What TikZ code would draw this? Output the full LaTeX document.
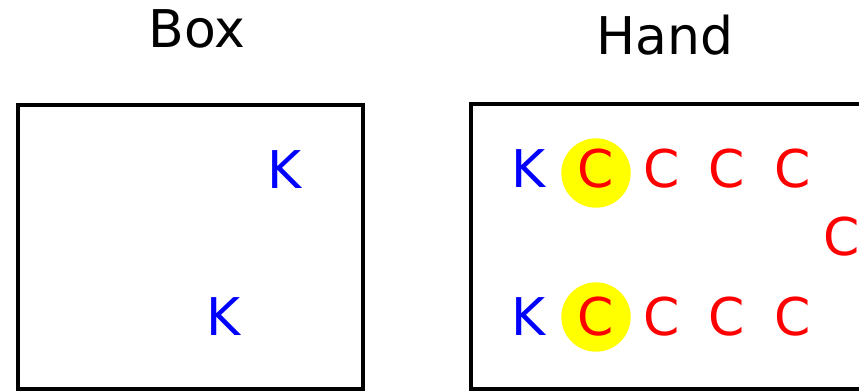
\documentclass[tikz,border=0pt]{standalone}
\usepackage{fontspec}
\setmainfont{DejaVu Sans}
\usetikzlibrary{positioning}
\definecolor{keyBlue}{RGB}{0,0,255}
\definecolor{coinRed}{RGB}{255,0,0}
\definecolor{markYellow}{RGB}{255,255,0}

\begin{document}
\begin{tikzpicture}[x=0.75pt,y=-0.75pt,
    letter/.style={anchor=base,inner sep=0pt,font=\fontsize{39}{39}\selectfont},
    title/.style={letter,text=black},
    keycard/.style={letter,text=keyBlue},
    coincard/.style={letter,text=coinRed},
    highlight/.style={circle,fill=markYellow,inner sep=0pt,minimum size=52pt},
    pile/.style={line width=2.8pt,draw=black}]
    \useasboundingbox (0,0) rectangle (859,392);
    \clip (0,0) rectangle (859,392);
    % titles
    \node[title] (boxtitle) at (197,48) {Box};
    \node[title] (handtitle) at (665,55) {Hand};
    % the two piles
    \draw[pile] (18,105) rectangle (363,389);
    \draw[pile] (471,104) rectangle (900,389);
    % box contents
    \node[keycard] (boxk1) at (285,188) {K};
    \node[keycard] (boxk2) at (224,335) {K};
    % hand contents
    \node[highlight] (hl1) at (596,173) {};
    \node[highlight] (hl2) at (596,317) {};
    \node[keycard] (handk1) at (529,187) {K};
    \node[keycard] (handk2) at (529,335) {K};
    \foreach \x [count=\i] in {596,662,727,793} {
        \node[coincard] (ca\i) at (\x,187) {C};
        \node[coincard] (cb\i) at (\x,335) {C};
    }
    \node[coincard] (cmid) at (842,255) {C};
\end{tikzpicture}
\end{document}
